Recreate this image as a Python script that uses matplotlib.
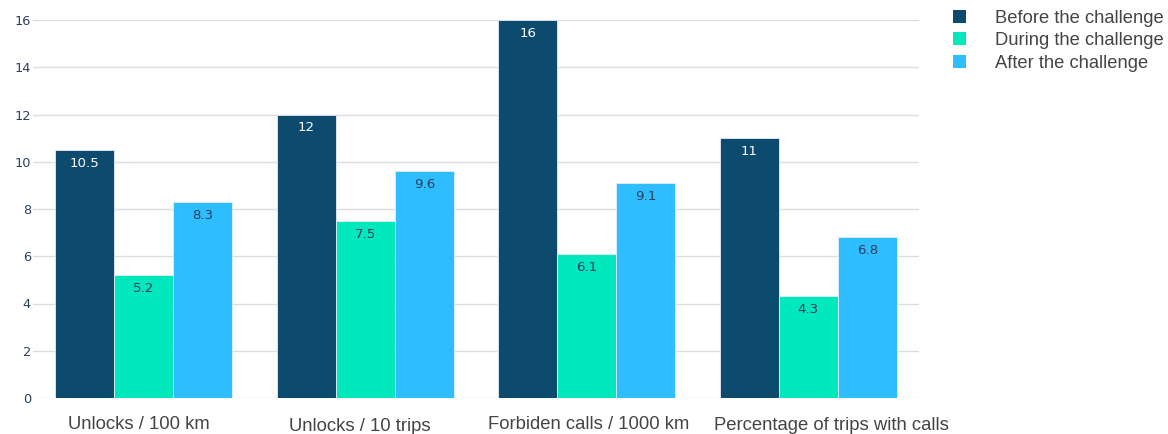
import numpy as np
import matplotlib
matplotlib.use("Agg")
import matplotlib.pyplot as plt
from matplotlib.patches import Patch

categories = ["Unlocks / 100 km", "Unlocks / 10 trips", "Forbiden calls / 1000 km",
              "Percentage of trips with calls"]
series_names = ["Before the challenge", "During the challenge", "After the challenge"]
before = [10.5, 12, 16, 11]
during = [5.2, 7.5, 6.1, 4.3]
after = [8.3, 9.6, 9.1, 6.8]
y_ticks = [0, 2, 4, 6, 8, 10, 12, 14, 16]

colors = ["#0c4a6e", "#00e8bb", "#2ebdfe"]
label_colors = ["white", "#2a3f5f", "#2a3f5f"]
# nudge (points) of each category caption below the axis
caption_dx = [-3.6, -4.0, 1.4, 17.0]
caption_dy = [-13.0, -14.1, -13.0, -13.5]

fig = plt.figure(figsize=(11.68, 4.34), dpi=100)
ax = fig.add_axes([33 / 1168, 36 / 434, (919 - 33) / 1168, (398 - 20) / 434])

x = np.arange(len(categories))
width = 0.8 / 3
for i, (vals, name) in enumerate(zip([before, during, after], series_names)):
    pos = x + (i - 1) * width
    bars = ax.bar(pos, vals, width, color=colors[i], edgecolor="#e5ecf6",
                  linewidth=0.6, label=name, zorder=3)
    for b, v in zip(bars, vals):
        ax.annotate(f"{v:g}", (b.get_x() + b.get_width() / 2, v),
                    xytext=(0, -5), textcoords="offset points",
                    ha="center", va="top", fontsize=9.6,
                    family="DejaVu Sans", color=label_colors[i], zorder=4)

ax.set_xlim(-0.5, len(categories) - 0.5)
ax.set_ylim(0, 16)
ax.set_yticks(y_ticks)
ax.set_xticks(x)
ax.set_xticklabels([])
ax.tick_params(axis="x", length=0)
for xi, cat, dx, dy in zip(x, categories, caption_dx, caption_dy):
    ax.annotate(cat, (xi, 0), xytext=(dx, dy), textcoords="offset points",
                ha="center", va="top", fontsize=13.3, family="Liberation Sans",
                color="#444444", annotation_clip=False)
ax.tick_params(axis="y", length=0, pad=1.5, labelsize=9.3, labelcolor="#2a3f5f")
for lbl in ax.get_yticklabels():
    lbl.set_family("DejaVu Sans")
ax.grid(axis="y", color="#dcdce2", linewidth=1, zorder=0)
for s in ax.spines.values():
    s.set_visible(False)

handles = [Patch(facecolor=c, edgecolor="none") for c in colors]
fig.legend(handles, series_names, loc="upper left",
           bbox_to_anchor=(953 / 1168, 1 - 10 / 434), frameon=False,
           prop={"family": "Liberation Sans", "size": 13.2},
           labelcolor="#444444", handlelength=0.71, handleheight=0.71,
           handletextpad=1.58, labelspacing=0.29, borderaxespad=0,
           borderpad=0)

fig.savefig("out.png", dpi=100, facecolor="white")
